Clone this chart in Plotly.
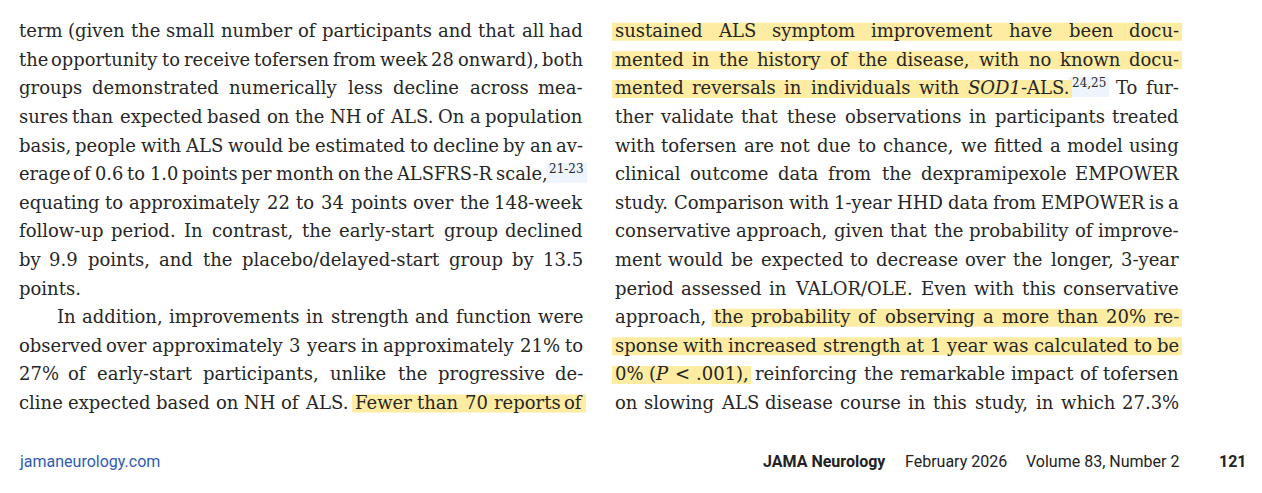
import re
import plotly.graph_objects as go

# page text, one entry per printed line ("^" marks a superscript citation)
LEFT_LINES = [
    "term (given the small number of participants and that all had",
    "the opportunity to receive tofersen from week 28 onward), both",
    "groups demonstrated numerically less decline across mea-",
    "sures than expected based on the NH of ALS. On a population",
    "basis, people with ALS would be estimated to decline by an av-",
    "erage of 0.6 to 1.0 points per month on the ALSFRS-R scale,^21-23",
    "equating to approximately 22 to 34 points over the 148-week",
    "follow-up period. In contrast, the early-start group declined",
    "by 9.9 points, and the placebo/delayed-start group by 13.5",
    "points.",
    "In addition, improvements in strength and function were",
    "observed over approximately 3 years in approximately 21% to",
    "27% of early-start participants, unlike the progressive de-",
    "cline expected based on NH of ALS. Fewer than 70 reports of",
]
RIGHT_LINES = [
    "sustained ALS symptom improvement have been docu-",
    "mented in the history of the disease, with no known docu-",
    "mented reversals in individuals with <i>SOD1</i>-ALS.^24,25 To fur-",
    "ther validate that these observations in participants treated",
    "with tofersen are not due to chance, we fitted a model using",
    "clinical outcome data from the dexpramipexole EMPOWER",
    "study. Comparison with 1-year HHD data from EMPOWER is a",
    "conservative approach, given that the probability of improve-",
    "ment would be expected to decrease over the longer, 3-year",
    "period assessed in VALOR/OLE. Even with this conservative",
    "approach, the probability of observing a more than 20% re-",
    "sponse with increased strength at 1 year was calculated to be",
    "0% (<i>P</i> &lt; .001), reinforcing the remarkable impact of tofersen",
    "on slowing ALS disease course in this study, in which 27.3%",
]
LEFT_PARA_END = [9]
LEFT_INDENT = [10]

# marked passages: (column, line, first word, last word)
HIGHLIGHTS = [
    ("left", 13, 7, 11),
    ("right", 0, 0, 6),
    ("right", 1, 0, 10),
    ("right", 2, 0, 5),
    ("right", 10, 1, 9),
    ("right", 11, 0, 10),
    ("right", 12, 0, 3),
]

FOOTER_SITE = "jamaneurology.com"
FOOTER_JOURNAL = "JAMA Neurology"
FOOTER_DATE = "February 2026"
FOOTER_ISSUE = "Volume 83, Number 2"
FOOTER_PAGE = "121"

# rough DejaVu Serif advance widths (em) to spread words across the column
W = {
    " ": .318, "a": .596, "b": .640, "c": .560, "d": .640, "e": .592, "f": .370,
    "g": .640, "h": .644, "i": .320, "j": .310, "k": .606, "l": .320, "m": .948,
    "n": .644, "o": .602, "p": .640, "q": .640, "r": .478, "s": .513, "t": .402,
    "u": .644, "v": .565, "w": .856, "x": .564, "y": .565, "z": .527,
    "A": .722, "B": .735, "C": .765, "D": .802, "E": .730, "F": .694, "G": .799,
    "H": .872, "I": .395, "J": .401, "K": .747, "L": .664, "M": 1.024, "N": .875,
    "O": .820, "P": .673, "Q": .820, "R": .753, "S": .685, "T": .667, "U": .843,
    "V": .722, "W": 1.028, "X": .712, "Y": .660, "Z": .695,
    ".": .318, ",": .318, "-": .338, "(": .390, ")": .390, "/": .337,
    "%": .950, "<": .838,
}
for d in "0123456789":
    W[d] = .636

SIZE = 18
SIZE_MIN = 17.6   # only the tightest lines get squeezed a little
SUP = 12
MIN_GAP = 4
TEXT = "#262626"
BASE0 = 36.7
LEAD = 28.6
INDENT = 38
MARK = "#fdeca2"
CITE = "#eef4fc"


def em(s):
    plain = re.sub(r"<[^>]+>", "", s).replace("&lt;", "<")
    return sum(W.get(c, .6) for c in plain)


fig = go.Figure()
annotations = []
shapes = []
spans = {}


def word(x, y, text, anchor, size):
    annotations.append(dict(
        x=x, y=y, xref="x", yref="y", text=text, showarrow=False,
        xanchor=anchor, yanchor="middle", borderpad=0,
        font=dict(family="DejaVu Serif", size=size, color=TEXT),
    ))


columns = [
    ("left", 18, 584, LEFT_LINES, LEFT_PARA_END, LEFT_INDENT),
    ("right", 614, 1180, RIGHT_LINES, [], []),
]
for name, xl, xr, lines, para_end, indent in columns:
    for i, line in enumerate(lines):
        base = BASE0 + i * LEAD
        parts = [t.partition("^")[::2] for t in line.split(" ")]
        x0 = xl + (INDENT if i in indent else 0)
        sups = sum(em(s) * SUP + 2 for _, s in parts if s)
        words_em = sum(em(m) for m, _ in parts)
        justified = i not in para_end and len(parts) > 1
        size = SIZE
        if justified:
            fit = (xr - x0 - sups - MIN_GAP * (len(parts) - 1)) / words_em
            size = min(SIZE, max(SIZE_MIN, fit))
        widths = [em(m) * size + (em(s) * SUP + 2 if s else 0) for m, s in parts]
        gap = (xr - x0 - sum(widths)) / (len(parts) - 1) if justified else W[" "] * size
        x = x0
        pos = []
        for k, (m, s) in enumerate(parts):
            mw = em(m) * size
            last = k == len(parts) - 1
            if k == 0:
                word(x, base - 6, m, "left", size)
            elif last and justified and not s:
                word(xr, base - 6, m, "right", size)
            else:
                word(x + mw / 2, base - 6, m, "center", size)
            pos.append((x, x + mw))
            if s:
                sx = x + mw + 2
                sw = em(s) * SUP
                word(sx + sw / 2, base - 11, s, "center", SUP)
                shapes.append(dict(
                    type="rect", xref="x", yref="y", x0=sx - 3, x1=sx + sw + 3,
                    y0=base - 17, y1=base + 3, fillcolor=CITE, line_width=0, layer="below",
                ))
            x += widths[k] + gap
        spans[(name, i)] = pos

for name, i, a, b in HIGHLIGHTS:
    base = BASE0 + i * LEAD
    pos = spans[(name, i)]
    shapes.append(dict(
        type="rect", xref="x", yref="y", x0=pos[a][0] - 2, x1=pos[b][1] + 2,
        y0=base - 14, y1=base + 4, fillcolor=MARK, line_width=0, layer="below",
    ))

# running footer
foot = dict(family="Roboto", size=16, color="#222222")
footer = [
    (18, FOOTER_SITE, "left", dict(foot, color="#2f5bb5")),
    (762, "<b>" + FOOTER_JOURNAL + "</b>", "left", foot),
    (904, FOOTER_DATE, "left", foot),
    (1180, FOOTER_ISSUE, "right", foot),
    (1248, "<b>" + FOOTER_PAGE + "</b>", "right", foot),
]
for x, text, anchor, f in footer:
    annotations.append(dict(
        x=x, y=461, xref="x", yref="y", text=text, showarrow=False,
        xanchor=anchor, yanchor="middle", borderpad=0, font=f,
    ))

# the page body adds an 8px margin, so the axes start at 8 to keep page pixels
fig.update_layout(
    width=1262, height=493,
    margin=dict(l=0, r=0, t=0, b=0),
    paper_bgcolor="white", plot_bgcolor="white",
    xaxis=dict(range=[8, 1270], visible=False, fixedrange=True),
    yaxis=dict(range=[501, 8], visible=False, fixedrange=True),
    annotations=annotations, shapes=shapes, showlegend=False,
)

fig.write_html("out.html")
